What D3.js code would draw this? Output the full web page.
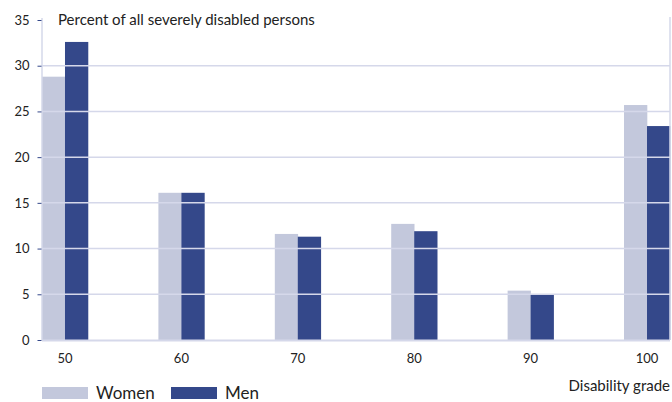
<!DOCTYPE html>
<html><head><meta charset="utf-8">
<script src="https://cdn.jsdelivr.net/npm/d3@7"></script>
<style>body{margin:0;background:#fff}svg{display:block}text{font-family:Lato,"Open Sans",sans-serif;fill:#222}</style>
</head><body><svg id="c" width="672" height="402"></svg>
<script>
const categories = ["50","60","70","80","90","100"];
const women = [28.8, 16.1, 11.6, 12.7, 5.4, 25.7];
const men = [32.6, 16.1, 11.3, 11.9, 5.0, 23.4];
const yTicks = [0,5,10,15,20,25,30,35];
const gridVals = [5,10,15,20,25,30];
const seriesNames = ["Women","Men"];
const colors = ["#c3c8dc","#34488a"];

(function(){
const svg = d3.select("#c");
const mLeft = 42, mRight = 670, mTop = 18, mBottom = 340;
const x = d3.scaleBand().domain(categories).range([mLeft, mRight]).paddingInner(0.605).paddingOuter(0).align(0);
const xs = d3.scaleBand().domain(seriesNames).range([0, x.bandwidth()]);
const y = d3.scaleLinear().domain([0,35]).range([mBottom, mTop+2]);
const grid = "#d5d8ea";

const g = svg.append("g");
categories.forEach((c,i)=>{
  [women[i], men[i]].forEach((v,j)=>{
    g.append("rect").attr("x", x(c)+xs(seriesNames[j])).attr("width", xs.bandwidth()+0.3)
     .attr("y", y(v)).attr("height", y(0)-y(v)).attr("fill", colors[j]);
  });
});
svg.append("g").selectAll("line").data(gridVals).join("line")
  .attr("x1", mLeft).attr("x2", mRight).attr("y1", d=>y(d)).attr("y2", d=>y(d))
  .attr("stroke", grid).attr("stroke-width", 1.5);
svg.append("line").attr("x1", mLeft).attr("x2", mRight).attr("y1", mBottom+0.5).attr("y2", mBottom+0.5).attr("stroke", grid).attr("stroke-width", 2);
svg.append("line").attr("x1", mLeft).attr("x2", mLeft).attr("y1", mTop).attr("y2", mBottom).attr("stroke", grid).attr("stroke-width", 1.5);
svg.append("line").attr("x1", mRight).attr("x2", mRight).attr("y1", mTop-1).attr("y2", mBottom).attr("stroke", grid).attr("stroke-width", 1.5);

const ya = d3.axisLeft(y).tickValues(yTicks).tickSize(4).tickPadding(8);
const yg = svg.append("g").attr("transform", `translate(${mLeft-0.5},0)`).call(ya);
yg.select(".domain").remove();
yg.selectAll(".tick line").attr("stroke", "#34488a");
yg.selectAll("text").attr("font-size", 13).attr("fill", "#222").attr("font-family", "Lato, sans-serif");

const xa = d3.axisBottom(x).tickSize(0).tickPadding(14);
const xg = svg.append("g").attr("transform", `translate(0,${mBottom})`).call(xa);
xg.select(".domain").remove();
xg.selectAll("text").attr("font-size", 13).attr("fill", "#222").attr("font-family", "Lato, sans-serif");

svg.append("text").attr("x", 58).attr("y", 25).attr("font-size", 15).text("Percent of all severely disabled persons");
svg.append("text").attr("x", 670).attr("y", 391).attr("text-anchor", "end").attr("font-size", 15).text("Disability grade");

const leg = [{x:42, tx:96},{x:171, tx:225}];
seriesNames.forEach((n,i)=>{
  svg.append("rect").attr("x", leg[i].x).attr("y", 387).attr("width", 46).attr("height", 12).attr("fill", colors[i]);
  svg.append("text").attr("x", leg[i].tx).attr("y", 399).attr("font-size", 17).text(n);
});
})();
</script></body></html>
